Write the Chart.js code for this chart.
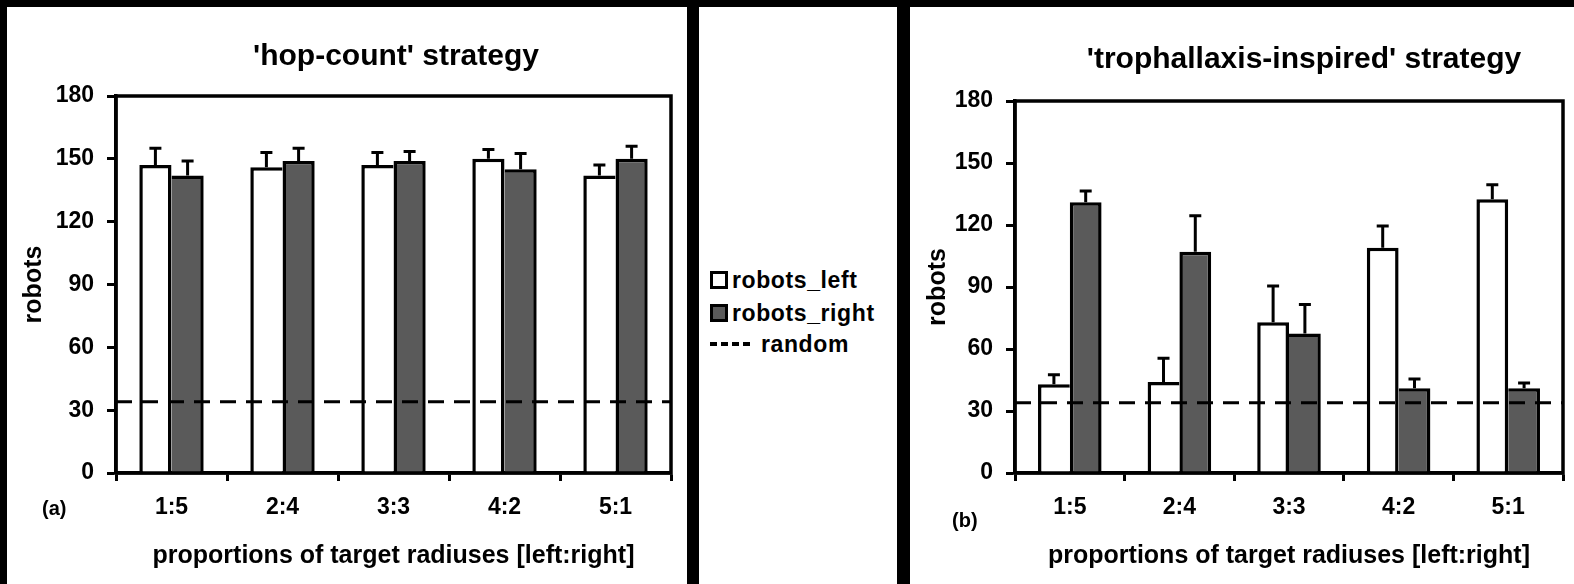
<!DOCTYPE html>
<html>
<head>
<meta charset="utf-8">
<script src="https://cdn.jsdelivr.net/npm/chart.js@4.4.1/dist/chart.umd.min.js"></script>
<style>
  body { margin: 0; background: #000; width: 1574px; height: 584px; overflow: hidden; position: relative;
         font-family: "Liberation Sans", Arial, sans-serif; font-weight: bold; color: #000; }
  .panel { position: absolute; top: 7px; height: 577px; background: #fff; }
  .panel canvas { position: absolute; left: 0; top: 0; }
  .txt { position: absolute; white-space: nowrap; line-height: 1; }
  .title { font-size: 30px; transform: translate(-50%, -50%); }
  .tag { font-size: 20px; transform: translateY(-50%); }
  .leg { font-size: 23px; letter-spacing: 0.6px; transform: translateY(-50%); }
  .box { position: absolute; width: 12px; height: 12px; border: 3px solid #000; transform: translateY(-50%); }
  .dash { position: absolute; width: 40px; height: 4px; transform: translateY(-50%);
          background: repeating-linear-gradient(90deg, #000 0 7px, transparent 7px 11px); }
</style>
</head>
<body>
<div class="panel" style="left:7px;width:680px;">
  <canvas id="hop" width="680" height="577"></canvas>
  <div class="txt title" style="left:389px;top:48px;">'hop-count' strategy</div>
  <div class="txt tag" style="left:35px;top:501px;">(a)</div>
</div>
<div class="panel" style="left:699px;width:198px;">
  <div class="box" style="left:11px;top:273px;background:#fff;"></div>
  <div class="txt leg" style="left:33px;top:273px;">robots_left</div>
  <div class="box" style="left:11px;top:306px;background:#5a5a5a;"></div>
  <div class="txt leg" style="left:33px;top:306px;">robots_right</div>
  <div class="dash" style="left:11px;top:337px;"></div>
  <div class="txt leg" style="left:62px;top:337px;">random</div>
</div>
<div class="panel" style="left:910px;width:664px;">
  <canvas id="troph" width="664" height="577"></canvas>
  <div class="txt title" style="left:394px;top:51px;">'trophallaxis-inspired' strategy</div>
  <div class="txt tag" style="left:42px;top:513px;">(b)</div>
</div>
<script>
// data
const categories = ['1:5', '2:4', '3:3', '4:2', '5:1'];
const randomLevel = 34;

const hopLeft = [147, 146, 147, 150, 142];
const hopLeftErr = [8, 7, 6, 4.5, 5];
const hopRight = [142, 149, 149, 145, 150];
const hopRightErr = [7, 6, 4.5, 7.5, 6];

const trophLeft = [43, 44, 73, 109, 132.5];
const trophLeftErr = [4.5, 11.5, 17.5, 10.5, 7];
const trophRight = [131, 107, 67.5, 41, 41];
const trophRightErr = [5.5, 17.5, 14, 4.5, 2.5];

const yTicks = [0, 30, 60, 90, 120, 150, 180];

const FONT = '"Liberation Sans", Arial, sans-serif';
const GRAY = '#5a5a5a';
const LW = 3.5;

// upper error bars, random level line and plot frame
const extras = {
  id: 'extras',
  afterDatasetsDraw(chart, args, opts) {
    const { ctx, chartArea: a, scales: { y } } = chart;
    ctx.save();
    ctx.strokeStyle = '#000';
    ctx.lineWidth = 3;
    chart.data.datasets.forEach((ds, i) => {
      chart.getDatasetMeta(i).data.forEach((bar, j) => {
        const top = y.getPixelForValue(ds.data[j] + ds.errors[j]);
        ctx.beginPath();
        ctx.moveTo(bar.x, bar.y);
        ctx.lineTo(bar.x, top);
        ctx.moveTo(bar.x - 6, top);
        ctx.lineTo(bar.x + 6, top);
        ctx.stroke();
      });
    });
    const ry = y.getPixelForValue(opts.level);
    ctx.setLineDash([16, 10]);
    ctx.beginPath();
    ctx.moveTo(a.left, ry);
    ctx.lineTo(a.right, ry);
    ctx.stroke();
    ctx.setLineDash([]);
    ctx.lineWidth = LW;
    ctx.strokeRect(a.left, a.top, a.right - a.left, a.bottom - a.top);
    ctx.restore();
  }
};

function makeChart(id, left, leftErr, right, rightErr, lay) {
  return new Chart(document.getElementById(id), {
    type: 'bar',
    data: {
      labels: categories,
      datasets: [
        {
          label: 'robots_left', data: left, errors: leftErr,
          backgroundColor: '#fff', borderColor: '#000',
          borderWidth: c => ({ top: LW, left: LW, bottom: 0, right: left[c.dataIndex] >= right[c.dataIndex] ? LW : 0 })
        },
        {
          label: 'robots_right', data: right, errors: rightErr,
          backgroundColor: GRAY, borderColor: '#000',
          borderWidth: c => ({ top: LW, right: LW, bottom: 0, left: right[c.dataIndex] > left[c.dataIndex] ? LW : 0 })
        }
      ]
    },
    options: {
      responsive: false,
      animation: false,
      categoryPercentage: 0.58,
      barPercentage: 1.0,
      layout: { padding: { left: 0, top: lay.top, right: lay.right, bottom: 0 } },
      plugins: {
        legend: { display: false },
        tooltip: { enabled: false },
        extras: { level: randomLevel }
      },
      scales: {
        x: {
          grid: { drawOnChartArea: false, tickLength: 8, tickWidth: 3, tickColor: '#000', offset: true },
          border: { color: '#000', width: LW },
          ticks: { color: '#000', padding: 13, maxRotation: 0, font: { family: FONT, size: 23, weight: 'bold' } },
          title: {
            display: true, text: 'proportions of target radiuses [left:right]', color: '#000',
            padding: { top: 0, bottom: 13 }, font: { family: FONT, size: 25, weight: 'bold' }
          },
          afterFit: s => { s.height = 111; }
        },
        y: {
          min: 0, max: 180,
          afterBuildTicks: s => { s.ticks = yTicks.map(v => ({ value: v })); },
          grid: { drawOnChartArea: false, tickLength: 9, tickWidth: 3, tickColor: '#000' },
          border: { color: '#000', width: LW },
          ticks: { color: '#000', padding: 13, font: { family: FONT, size: 23, weight: 'bold' } },
          title: {
            display: true, text: 'robots', color: '#000',
            padding: { top: lay.yTitle, bottom: 0 }, font: { family: FONT, size: 25, weight: 'bold' }
          },
          afterFit: s => { s.width = lay.yWidth; }
        }
      }
    },
    plugins: [extras]
  });
}

makeChart('hop', hopLeft, hopLeftErr, hopRight, hopRightErr, { top: 89, right: 16, yWidth: 109, yTitle: 12 });
makeChart('troph', trophLeft, trophLeftErr, trophRight, trophRightErr, { top: 94, right: 11, yWidth: 105, yTitle: 13 });
</script>
</body>
</html>
